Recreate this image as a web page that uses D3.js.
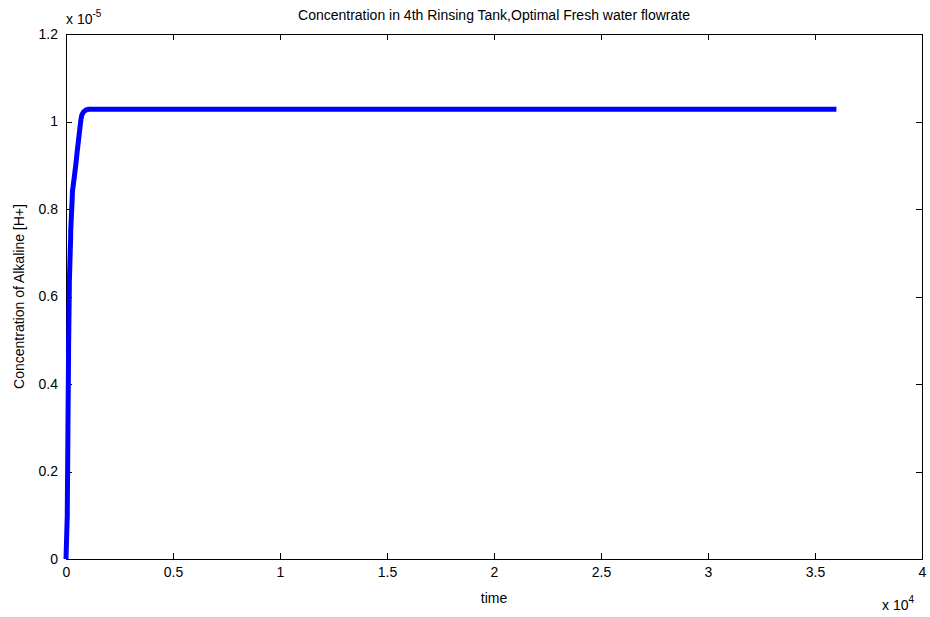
<!DOCTYPE html>
<html>
<head>
<meta charset="utf-8">
<script src="https://cdn.jsdelivr.net/npm/d3@7"></script>
<style>
  html, body { margin: 0; padding: 0; background: #fff; }
  text { font-family: "Liberation Sans", Arial, sans-serif; fill: #000; }
</style>
</head>
<body>
<svg id="chart" width="930" height="617"></svg>
<script>
// Time (s) and concentration (×1e-5) of alkaline in the 4th rinsing tank
const timeValues = [0, 60, 60, 90, 90, 120, 120, 155, 155, 220, 220, 295, 300, 380, 455, 520, 585, 650, 700, 740, 820, 920, 1050, 36000];
const concValues = [0, 0.10, 0.11, 0.29, 0.30, 0.47, 0.48, 0.62, 0.63, 0.74, 0.75, 0.83, 0.84, 0.87, 0.90, 0.93, 0.957, 0.985, 1.005, 1.015, 1.022, 1.026, 1.028, 1.028];
const xTicks = [0, 0.5, 1, 1.5, 2, 2.5, 3, 3.5, 4];
const yTicks = [0, 0.2, 0.4, 0.6, 0.8, 1, 1.2];

const svg = d3.select("#chart");
const m = { left: 66, right: 922, top: 34, bottom: 559 };

const x = d3.scaleLinear().domain([0, 4]).range([m.left, m.right]);
const y = d3.scaleLinear().domain([0, 1.2]).range([m.bottom, m.top]);

// Frame
svg.append("rect")
  .attr("x", m.left).attr("y", m.top)
  .attr("width", m.right - m.left).attr("height", m.bottom - m.top)
  .attr("fill", "#fff").attr("stroke", "#000").attr("stroke-width", 1)
  .attr("shape-rendering", "crispEdges");

const fmt = d => d3.format("")(d);
const tickLen = 6;

// Axes with inward ticks on all four sides
const axB = d3.axisBottom(x).tickValues(xTicks).tickSize(-tickLen).tickPadding(8).tickFormat(fmt);
const axT = d3.axisTop(x).tickValues(xTicks).tickSize(-tickLen).tickFormat("");
const axL = d3.axisLeft(y).tickValues(yTicks).tickSize(-tickLen).tickPadding(8).tickFormat(fmt);
const axR = d3.axisRight(y).tickValues(yTicks).tickSize(-tickLen).tickFormat("");

function styleAxis(g) {
  g.select(".domain").remove();
  g.selectAll("line").attr("stroke", "#000").attr("shape-rendering", "crispEdges");
  g.selectAll("text").attr("font-size", 14).attr("font-family", "Liberation Sans, Arial, sans-serif");
}

svg.append("g").attr("transform", `translate(0,${m.bottom})`).call(axB).call(styleAxis);
svg.append("g").attr("transform", `translate(0,${m.top})`).call(axT).call(styleAxis);
svg.append("g").attr("transform", `translate(${m.left},0)`).call(axL).call(styleAxis);
svg.append("g").attr("transform", `translate(${m.right},0)`).call(axR).call(styleAxis);

// Concentration curve
const data = timeValues.map((t, i) => ({ t: t / 1e4, c: concValues[i] }));
const line = d3.line().x(d => x(d.t)).y(d => y(d.c));
svg.append("path")
  .datum(data)
  .attr("d", line)
  .attr("fill", "none")
  .attr("stroke", "#0000ff")
  .attr("stroke-width", 5)
  .attr("stroke-linejoin", "round");

// Title and axis labels
svg.append("text").attr("x", (m.left + m.right) / 2).attr("y", 20)
  .attr("text-anchor", "middle").attr("font-size", 14)
  .text("Concentration in 4th Rinsing Tank,Optimal Fresh water flowrate");

svg.append("text").attr("x", (m.left + m.right) / 2).attr("y", 603)
  .attr("text-anchor", "middle").attr("font-size", 14).text("time");

svg.append("text")
  .attr("transform", `translate(24,${(m.top + m.bottom) / 2}) rotate(-90)`)
  .attr("text-anchor", "middle").attr("font-size", 14)
  .text("Concentration of Alkaline [H+]");

// Exponent multipliers
const ey = svg.append("text").attr("x", 66).attr("y", 24).attr("font-size", 14);
ey.append("tspan").text("x 10");
ey.append("tspan").attr("dy", -7).attr("font-size", 10).text("-5");

const ex = svg.append("text").attr("x", 882).attr("y", 610).attr("font-size", 14);
ex.append("tspan").text("x 10");
ex.append("tspan").attr("dy", -7).attr("font-size", 10).text("4");
</script>
</body>
</html>
